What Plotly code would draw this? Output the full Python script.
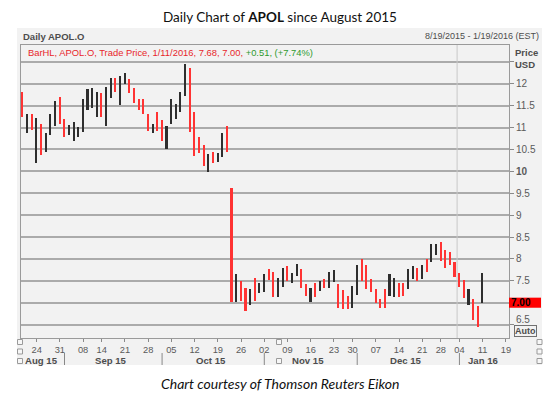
import pandas as pd
import plotly.graph_objects as go

# ---------------- data ----------------
highs = [11.80, 11.30, 11.32, 11.21, 11.08, 10.87, 11.32, 11.60, 11.70, 11.19,
         11.06, 11.13, 11.02, 11.65, 11.87, 11.91, 11.82, 11.79, 11.92, 12.12,
         12.12, 12.18, 12.24, 12.11, 11.91, 11.64, 11.65, 11.32, 11.07, 11.35,
         11.17, 11.03, 11.65, 11.53, 11.80, 12.44, 12.35, 11.36, 10.79, 10.61,
         10.39, 10.45, 10.41, 10.87, 11.04, 9.61, 7.65, 7.50, 7.34, 7.31,
         7.56, 7.46, 7.66, 7.76, 7.70, 7.56, 7.80, 7.84, 7.68, 7.89,
         7.76, 7.42, 7.33, 7.46, 7.50, 7.54, 7.69, 7.75, 7.42, 7.29,
         7.15, 7.38, 7.86, 8.00, 7.86, 7.53, 7.31, 7.08, 7.32, 7.65,
         7.57, 7.46, 7.44, 7.78, 7.84, 7.80, 7.86, 8.00, 8.33, 8.35,
         8.39, 8.20, 8.16, 7.92, 7.67, 7.52, 7.31, 7.08, 6.92, 7.68]
lows = [11.25, 10.87, 10.94, 10.20, 10.37, 10.45, 10.83, 11.04, 11.09, 10.79,
        10.83, 10.69, 10.79, 10.90, 11.41, 11.44, 11.25, 11.23, 11.04, 11.68,
        11.82, 11.51, 12.00, 11.78, 11.57, 11.40, 11.30, 10.92, 10.88, 10.92,
        10.69, 10.51, 11.09, 11.19, 11.36, 11.73, 10.90, 10.36, 10.41, 10.13,
        9.99, 10.18, 10.22, 10.33, 10.45, 7.02, 7.02, 7.05, 6.81, 6.95,
        7.05, 7.22, 7.25, 7.52, 7.14, 7.12, 7.37, 7.49, 7.46, 7.60,
        7.33, 7.15, 7.01, 7.14, 7.27, 7.34, 7.33, 7.48, 6.87, 6.85,
        6.85, 6.87, 7.18, 7.50, 7.31, 7.25, 7.00, 6.88, 6.88, 7.15,
        7.13, 7.13, 7.15, 7.31, 7.55, 7.49, 7.55, 7.71, 7.94, 8.10,
        7.95, 7.80, 7.87, 7.59, 7.35, 7.10, 6.95, 6.60, 6.44, 7.00]
# D = down bar (red), U = up bar (black)
moves = list("DUDUDUUUDD" "UUUUUUUDUU" "DUUDDDDDUD" "DUUUUUDDDD"
             "UDUUDDUDDU" "DUUDDUUDUU" "DDUDUDUUDD" "DUUDDDDDDU"
             "UDDUUDUDUU" "DDDDDDUDDU")
last_price = 7.00
last_change = 0.51
last_change_pct = 7.74

holidays = ["2015-09-07", "2015-11-26", "2015-12-25", "2016-01-01", "2016-01-18"]
trading_days = [d for d in pd.bdate_range("2015-08-19", "2016-01-19")
                if d.strftime("%Y-%m-%d") not in holidays]

# ---------------- derived positions ----------------
n = len(highs)
xs = list(range(n))
bar_colors = ["#ff3333" if m == "D" else "#2e2e2e" for m in moves]

week_idx = [i for i in range(1, len(trading_days))
            if trading_days[i].weekday() < trading_days[i - 1].weekday()]
week_txt = [trading_days[i].strftime("%d") for i in week_idx]

month_start = [0] + [i for i in range(1, len(trading_days))
                     if trading_days[i].month != trading_days[i - 1].month]
month_end = month_start[1:] + [len(trading_days)]
year_break = [i - 0.5 for i in range(1, len(trading_days))
              if trading_days[i].year != trading_days[i - 1].year]

y_vals = [6.5, 7, 7.5, 8, 8.5, 9, 9.5, 10, 10.5, 11, 11.5, 12, 12.5]
y_txt = ["", "", "7.5", "8", "8.5", "9", "9.5", "<b>10</b>", "10.5", "11",
         "11.5", "12", ""]

# ---------------- pixel geometry helpers ----------------
W, H = 559, 393
PL, PR, PT, PB = 21, 509, 45, 338     # plot area in px
PW, PH = PR - PL, PB - PT


def px(x):
    return (x - PL) / PW


def py(y):
    return (PB - y) / PH


AX = "#5a5a5a"
FONT = "Liberation Sans"

fig = go.Figure()
fig.add_trace(go.Bar(
    x=xs, y=[h - l for h, l in zip(highs, lows)], base=lows,
    width=0.34, marker=dict(color=bar_colors, line=dict(width=0)),
    hoverinfo="skip", showlegend=False))

shapes = []
shapes.append(dict(type="rect", xref="paper", yref="paper", x0=px(17), x1=px(542),
                   y0=py(365), y1=py(28), fillcolor="#f2f2f2", line=dict(width=0),
                   layer="below"))
for b in year_break:
    shapes.append(dict(type="line", xref="x", yref="paper", x0=b, x1=b, y0=0, y1=1,
                       line=dict(color="#c8c8c8", width=1)))
for s in month_start[1:]:
    shapes.append(dict(type="line", xref="x", yref="paper", x0=s, x1=s,
                       y0=py(353), y1=py(365), line=dict(color="#888888", width=1)))
shapes.append(dict(type="rect", xref="paper", yref="y", x0=1.0, x1=px(541),
                   y0=last_price - 0.115, y1=last_price + 0.115,
                   fillcolor="#ff0000", line=dict(width=0)))
for (ix, iy) in [(20, 342), (20, 351.5), (20, 361), (539.5, 342), (539.5, 351.5),
                 (539.5, 361), (279, 342), (279, 361)]:
    shapes.append(dict(type="rect", xref="paper", yref="paper",
                       x0=px(ix - 2.5), x1=px(ix + 2.5), y0=py(iy + 2.5), y1=py(iy - 2.5),
                       fillcolor="#f7f7f7", line=dict(color="#9a9a9a", width=1)))


def note(text, x, y, xanchor="center", xref="paper", yref="paper", **kw):
    d = dict(text=text, x=x, y=y, xref=xref, yref=yref, xanchor=xanchor,
             yanchor="middle", showarrow=False)
    d.update(kw)
    return d


ann = []
ann.append(note("Daily Chart of <b>APOL</b> since August 2015", px(279.5), py(17),
                font=dict(family="Lato", size=13.5, color="#111111")))
ann.append(note("<i>Chart courtesy of Thomson Reuters Eikon</i>", px(279.5), py(383),
                font=dict(family="Lato", size=14, color="#111111")))
ann.append(note("<b>Daily APOL.O</b>", px(21), py(36), xanchor="left",
                font=dict(family=FONT, size=9.5, color="#4d4d4d")))
d0, d1 = trading_days[0], trading_days[-1]
ann.append(note(f"{d0.month}/{d0.day}/{d0.year} - {d1.month}/{d1.day}/{d1.year} (EST)",
                px(541), py(36), xanchor="right",
                font=dict(family=FONT, size=9, color="#4d4d4d")))
dl = trading_days[n - 1]
legend_txt = (f"<span style='color:#e8262b'>BarHL, APOL.O, Trade Price, "
              f"{dl.month}/{dl.day}/{dl.year}, {highs[-1]:.2f}, {lows[-1]:.2f}, </span>"
              f"<span style='color:#2e9a2e'>+{last_change:.2f}, (+{last_change_pct:.2f}%)</span>")
ann.append(note(legend_txt, px(26), py(53), xanchor="left",
                font=dict(family=FONT, size=9.4)))
ann.append(note("<b>Price<br>USD</b>", px(513), py(58), xanchor="left", align="left",
                font=dict(family=FONT, size=9.5, color="#4d4d4d")))
ann.append(note(f"<b>{last_price:.2f}</b>", px(509), last_price, xanchor="left",
                yref="y", font=dict(family=FONT, size=10, color="#000000")))
ann.append(note("6.5", px(514), y_vals[0], xanchor="left", yref="y", yshift=5,
                font=dict(family=FONT, size=10, color=AX)))
ann.append(note("<b>Auto</b>", px(525), py(331), bordercolor="#707070",
                borderwidth=1, borderpad=0,
                font=dict(family=FONT, size=9, color="#4d4d4d")))
for s, e in zip(month_start, month_end):
    ann.append(note(f"<b>{trading_days[s].strftime('%b %y')}</b>", (s + e - 1) / 2,
                    py(360.5), xref="x",
                    font=dict(family=FONT, size=9.6, color="#4d4d4d")))

fig.update_layout(
    template="none",
    width=W, height=H, autosize=False,
    margin=dict(l=PL, r=W - PR, t=PT, b=H - PB, pad=0, autoexpand=False),
    paper_bgcolor="white", plot_bgcolor="rgba(0,0,0,0)",
    shapes=shapes, annotations=ann, bargap=0, showlegend=False,
    xaxis=dict(range=[-0.366, 104.67], tickvals=week_idx, ticktext=week_txt,
               automargin=False,
               showgrid=False, zeroline=False, showline=True, mirror=True,
               linecolor="#9a9a9a", linewidth=1, ticks="outside", ticklen=3,
               tickcolor="#8a8a8a", tickfont=dict(family=FONT, size=9.3, color=AX)),
    yaxis=dict(range=[6.194, 12.884], side="right", tickvals=y_vals, ticktext=y_txt,
               automargin=False,
               showgrid=True, gridcolor="#ababab", gridwidth=1.6, zeroline=False,
               showline=True, mirror=True, linecolor="#9a9a9a", linewidth=1,
               ticks="outside", ticklen=4, tickcolor="#8a8a8a",
               tickfont=dict(family=FONT, size=10, color=AX)),
)

fig.write_html("out.html", config={"displayModeBar": False},
               post_script="document.body.style.margin='0px';")
